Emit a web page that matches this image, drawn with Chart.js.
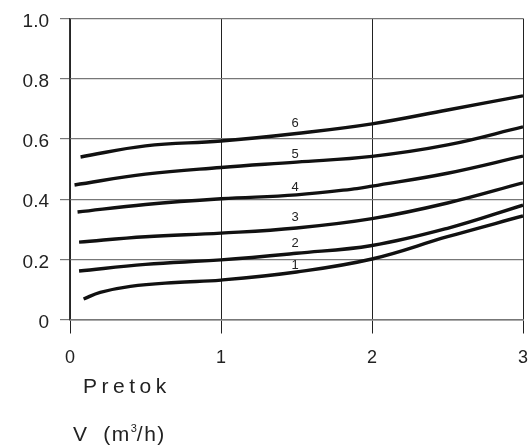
<!DOCTYPE html>
<html>
<head>
<meta charset="utf-8">
<script src="https://cdn.jsdelivr.net/npm/chart.js@4.4.1/dist/chart.umd.min.js"></script>
<style>
    html, body { margin: 0; padding: 0; background: #fff; }
    #wrap { position: relative; width: 529px; height: 447px; }
    canvas { position: absolute; left: 0; top: 0; }
    .axis-title {
        position: absolute;
        font-family: 'Liberation Sans', Arial, sans-serif;
        color: #222;
        white-space: pre;
        line-height: 1;
    }
    #pretok { left: 83px; top: 375px; font-size: 21px; letter-spacing: 4.5px; }
    #unit { left: 73px; top: 423px; font-size: 21px; letter-spacing: 1.5px; }
    #unit sup { font-size: 11px; vertical-align: 9px; letter-spacing: 0; }
</style>
</head>
<body>
<div id="wrap">
    <canvas id="chart" width="529" height="447"></canvas>
    <div class="axis-title" id="pretok">Pretok</div>
    <div class="axis-title" id="unit">V  (m<sup>3</sup>/h)</div>
</div>
<script>
// Krivulje 1..6 (pretok V u m3/h, vrijednost na osi y)
const flow1 = [0.09, 0.2, 0.4, 0.7, 1, 1.5, 2, 2.5, 3];
const val1  = [0.068, 0.09, 0.11, 0.123, 0.131, 0.158, 0.201, 0.275, 0.344];

const flow2 = [0.06, 0.5, 1, 1.5, 2, 2.5, 3];
const val2  = [0.161, 0.183, 0.198, 0.22, 0.246, 0.303, 0.38];

const flow3 = [0.06, 0.5, 1, 1.5, 2, 2.5, 3];
const val3  = [0.257, 0.275, 0.287, 0.304, 0.335, 0.387, 0.454];

const flow4 = [0.05, 0.5, 1, 1.5, 1.9, 2, 2.5, 3];
const val4  = [0.357, 0.382, 0.401, 0.414, 0.435, 0.443, 0.486, 0.543];

const flow5 = [0.03, 0.5, 1, 1.5, 2, 2.5, 3];
const val5  = [0.447, 0.483, 0.505, 0.523, 0.542, 0.58, 0.64];

const flow6 = [0.07, 0.5, 1, 1.5, 2, 2.5, 3];
const val6  = [0.54, 0.577, 0.593, 0.618, 0.65, 0.696, 0.743];

// Oznake krivulja
const curveNames = ['1', '2', '3', '4', '5', '6'];
const nameFlow   = [1.49, 1.49, 1.49, 1.49, 1.49, 1.49];
const nameVal    = [0.18, 0.254, 0.34, 0.44, 0.55, 0.653];

// Oznake osi
const xTicks = [0, 1, 2, 3];
const yTicks = [0, 0.2, 0.4, 0.6, 0.8, 1.0];

const flows = [flow1, flow2, flow3, flow4, flow5, flow6];
const vals  = [val1, val2, val3, val4, val5, val6];

const FONT = "'Liberation Sans', Arial, sans-serif";

// Brojevi uz krivulje
const curveLabels = {
    id: 'curveLabels',
    afterDatasetsDraw(chart) {
        const ctx = chart.ctx;
        const xs = chart.scales.x, ys = chart.scales.y;
        ctx.save();
        ctx.fillStyle = '#222';
        ctx.font = '13px ' + FONT;
        ctx.textAlign = 'center';
        ctx.textBaseline = 'middle';
        curveNames.forEach((n, i) => {
            ctx.fillText(n, xs.getPixelForValue(nameFlow[i]), ys.getPixelForValue(nameVal[i]));
        });
        ctx.restore();
    }
};

new Chart(document.getElementById('chart'), {
    type: 'scatter',
    data: {
        datasets: flows.map((f, i) => ({
            label: curveNames[i],
            data: f.map((x, j) => ({ x: x, y: vals[i][j] })),
            showLine: true,
            borderColor: '#111',
            borderWidth: 3.4,
            pointRadius: 0,
            tension: 0.4,
            fill: false
        }))
    },
    options: {
        responsive: false,
        animation: false,
        layout: { padding: { top: 18.5, right: 6, left: 0, bottom: 0 } },
        plugins: {
            legend: { display: false },
            tooltip: { enabled: false }
        },
        scales: {
            x: {
                type: 'linear',
                min: 0,
                max: 3,
                afterBuildTicks: (s) => { s.ticks = xTicks.map(v => ({ value: v })); },
                afterFit: (s) => { s.height = 127.5; s.paddingLeft = 0; s.paddingRight = 0; },
                grid: { color: '#222', lineWidth: 1, tickLength: 14, drawTicks: true },
                border: { display: true, color: '#777', width: 1.5 },
                ticks: {
                    color: '#222',
                    padding: 14,
                    font: { family: FONT, size: 18 },
                    callback: (v) => String(v)
                }
            },
            y: {
                type: 'linear',
                min: 0,
                max: 1,
                afterBuildTicks: (s) => { s.ticks = yTicks.map(v => ({ value: v })); },
                afterFit: (s) => { s.width = 70; s.paddingTop = 0; s.paddingBottom = 0; },
                grid: { color: '#777', lineWidth: 1.2, tickLength: 10, drawTicks: true },
                border: { display: true, color: '#333', width: 1.2 },
                ticks: {
                    color: '#222',
                    padding: 11,
                    labelOffset: 3,
                    font: { family: FONT, size: 19 },
                    callback: (v) => v === 0 ? '0' : v.toFixed(1)
                }
            }
        }
    },
    plugins: [curveLabels]
});
</script>
</body>
</html>
